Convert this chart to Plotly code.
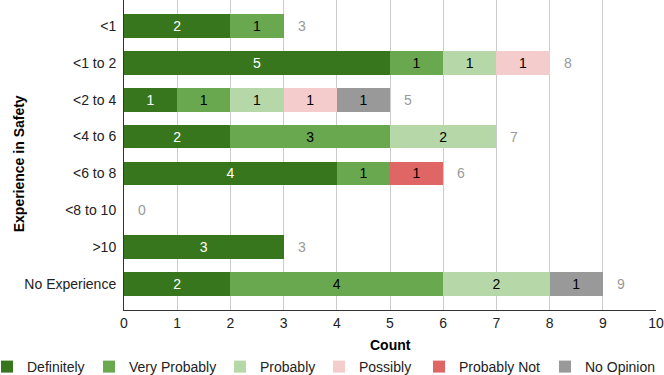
import plotly.graph_objects as go

categories = ['<1', '<1 to 2', '<2 to 4', '<4 to 6', '<6 to 8', '<8 to 10', '>10', 'No Experience']
series_names = ['Definitely', 'Very Probably', 'Probably', 'Possibly', 'Probably Not', 'No Opinion']
definitely = [2, 5, 1, 2, 4, 0, 3, 2]
very_probably = [1, 1, 1, 3, 1, 0, 0, 4]
probably = [0, 1, 1, 2, 0, 0, 0, 2]
possibly = [0, 1, 1, 0, 0, 0, 0, 0]
probably_not = [0, 0, 0, 0, 1, 0, 0, 0]
no_opinion = [0, 0, 1, 0, 0, 0, 0, 1]
colors = ['#38761d', '#6aa84f', '#b6d7a8', '#f4cccc', '#e06666', '#999999']
text_colors = ['white', 'black', 'black', 'black', 'black', 'black']

# left edge (px) of each legend swatch in the original, one legend per entry
legend_x = [0, 102, 233, 332, 432, 558]

series = [definitely, very_probably, probably, possibly, probably_not, no_opinion]
totals = [sum(v) for v in zip(*series)]

FONT = 'Liberation Sans, Arial, sans-serif'
W, H = 664, 375

fig = go.Figure()
legends = {}
for i, (name, vals, col, tcol) in enumerate(zip(series_names, series, colors, text_colors)):
    lname = 'legend' if i == 0 else 'legend%d' % (i + 1)
    fig.add_trace(go.Bar(
        y=categories, x=vals, name=name, orientation='h',
        marker=dict(color=col, line=dict(width=0)),
        text=[str(v) if v else '' for v in vals],
        textposition='inside', insidetextanchor='middle',
        textfont=dict(color=tcol, size=14),
        legend=lname, showlegend=True,
    ))
    legends[lname] = dict(xref='container', yref='container',
                          x=legend_x[i] / W, y=8 / H,
                          xanchor='left', yanchor='middle',
                          itemwidth=30, indentation=-13,
                          font=dict(size=14, color='#222222'),
                          bgcolor='rgba(0,0,0,0)')

# totals to the right of each bar
for cat, tot in zip(categories, totals):
    fig.add_annotation(x=tot, y=cat, text=str(tot), showarrow=False,
                       xanchor='left', xshift=12,
                       font=dict(color='#999999', size=14))

# axis titles
fig.add_annotation(text='<b>Experience in Safety</b>', textangle=-90,
                   xref='paper', yref='paper', x=-105 / 532, y=0.47,
                   xanchor='center', yanchor='middle',
                   showarrow=False, font=dict(size=14, color='#000000'))
fig.add_annotation(text='<b>Count</b>', xref='paper', yref='paper',
                   x=0.5, y=-35 / 310, xanchor='center', yanchor='middle',
                   showarrow=False, font=dict(size=14, color='#000000'))

fig.update_layout(
    barmode='stack',
    bargap=0.36,
    showlegend=True,
    width=W, height=H,
    margin=dict(l=124, r=8, t=0, b=65, autoexpand=False),
    paper_bgcolor='white', plot_bgcolor='white',
    font=dict(family=FONT, size=14, color='#222222'),
    xaxis=dict(range=[0, 10], dtick=1, showgrid=True, gridcolor='#cccccc',
               showline=True, linecolor='#333333', zeroline=False, ticks=''),
    yaxis=dict(range=[7.705, -0.705], showline=True, linecolor='#333333',
               ticks='', ticklabelstandoff=4),
    **legends,
)

fig.write_html('out.html', config={'displayModeBar': False},
               post_script="document.body.style.margin='0';")
